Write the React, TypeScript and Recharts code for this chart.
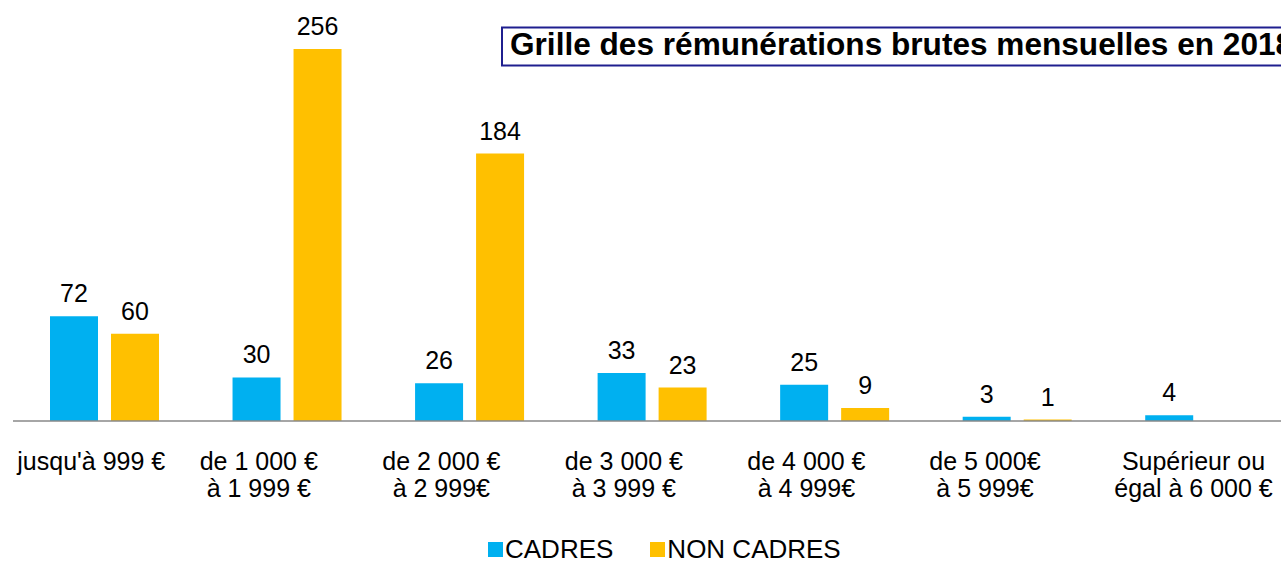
import React from 'react';
import { BarChart, Bar, XAxis, YAxis, LabelList, Legend } from 'recharts';

const CATEGORY_LINES: string[][] = [
  ["jusqu'à 999 €"],
  ['de 1 000 €', 'à 1 999 €'],
  ['de 2 000 €', 'à 2 999€'],
  ['de 3 000 €', 'à 3 999 €'],
  ['de 4 000 €', 'à 4 999€'],
  ['de 5 000€', 'à 5 999€'],
  ['Supérieur ou', 'égal à 6 000 €'],
];
const CADRES: (number | null)[] = [72, 30, 26, 33, 25, 3, 4];
const NON_CADRES: (number | null)[] = [60, 256, 184, 23, 9, 1, null];
const SERIES_NAMES = ['CADRES', 'NON CADRES'];
const TITLE = 'Grille des rémunérations brutes mensuelles en 2018';

// horizontal shift of each category label (layout only)
const TICK_SHIFT = [-13, -28, -28, -28, -28, -32, -6];

const COLORS = ['#00B0F0', '#FFC000'];
const FONT = '"Liberation Sans", Arial, sans-serif';

const data = CATEGORY_LINES.map((lines, i) => ({
  cat: lines.join(' '),
  idx: i,
  cadres: CADRES[i],
  nonCadres: NON_CADRES[i],
}));

const Tick = (props: any) => {
  const { x, y, index } = props;
  const lines = CATEGORY_LINES[index] || [];
  const dx = TICK_SHIFT[index] || 0;
  return (
    <g>
      {lines.map((l, k) => (
        <text
          key={k}
          x={x + dx}
          y={y + 49 + k * 27}
          textAnchor="middle"
          fontSize={25}
          fontFamily={FONT}
          fill="#000"
        >
          {l}
        </text>
      ))}
    </g>
  );
};

const LegendContent = () => (
  <div
    style={{
      height: 36,
      boxSizing: 'border-box',
      paddingTop: 10,
      paddingLeft: 488,
      display: 'flex',
      alignItems: 'flex-start',
      fontFamily: FONT,
      fontSize: 26,
      lineHeight: '26px',
      color: '#000',
      whiteSpace: 'nowrap',
    }}
  >
    {SERIES_NAMES.map((n, i) => (
      <div key={n} style={{ display: 'flex', alignItems: 'flex-start', marginRight: i === 0 ? 37 : 0 }}>
        <div style={{ width: 15, height: 15, background: COLORS[i], marginTop: 6, marginRight: 2 }} />
        <span>{n}</span>
      </div>
    ))}
  </div>
);

export default function App() {
  return (
    <div style={{ position: 'fixed', left: 0, top: 0, width: 1281, height: 562, overflow: 'hidden', background: '#fff' }}>
      <BarChart
        width={1300}
        height={562}
        data={data}
        margin={{ top: 14, right: 9.25, left: 13, bottom: 0 }}
        barGap={13}
      >
        <XAxis
          dataKey="cat"
          interval={0}
          height={105}
          tickLine={false}
          tickSize={0}
          tickMargin={0}
          axisLine={{ stroke: '#898989', strokeWidth: 1.5 }}
          tick={<Tick />}
        />
        <YAxis hide domain={[0, 280]} />
        <Legend
          verticalAlign="bottom"
          content={<LegendContent />}
          wrapperStyle={{ left: 0, width: 1300, height: 36 }}
        />
        <Bar dataKey="cadres" name={SERIES_NAMES[0]} fill={COLORS[0]} barSize={48} isAnimationActive={false}>
          <LabelList
            dataKey="cadres"
            position="top"
            offset={14}
            fontSize={25}
            fontFamily={FONT}
            fill="#000"
            formatter={(v: any) => (v == null ? '' : v)}
          />
        </Bar>
        <Bar dataKey="nonCadres" name={SERIES_NAMES[1]} fill={COLORS[1]} barSize={48} isAnimationActive={false}>
          <LabelList
            dataKey="nonCadres"
            position="top"
            offset={14}
            fontSize={25}
            fontFamily={FONT}
            fill="#000"
            formatter={(v: any) => (v == null ? '' : v)}
          />
        </Bar>
      </BarChart>
      <svg
        width={1281}
        height={562}
        style={{ position: 'absolute', left: 0, top: 0, pointerEvents: 'none' }}
      >
        <rect x={502} y={27.5} width={900} height={38} fill="#fff" stroke="#1f1f8f" strokeWidth={2} />
        <text x={510} y={55} fontSize={31.6} fontWeight="bold" fontFamily={FONT} fill="#000">
          {TITLE}
        </text>
      </svg>
    </div>
  );
}
